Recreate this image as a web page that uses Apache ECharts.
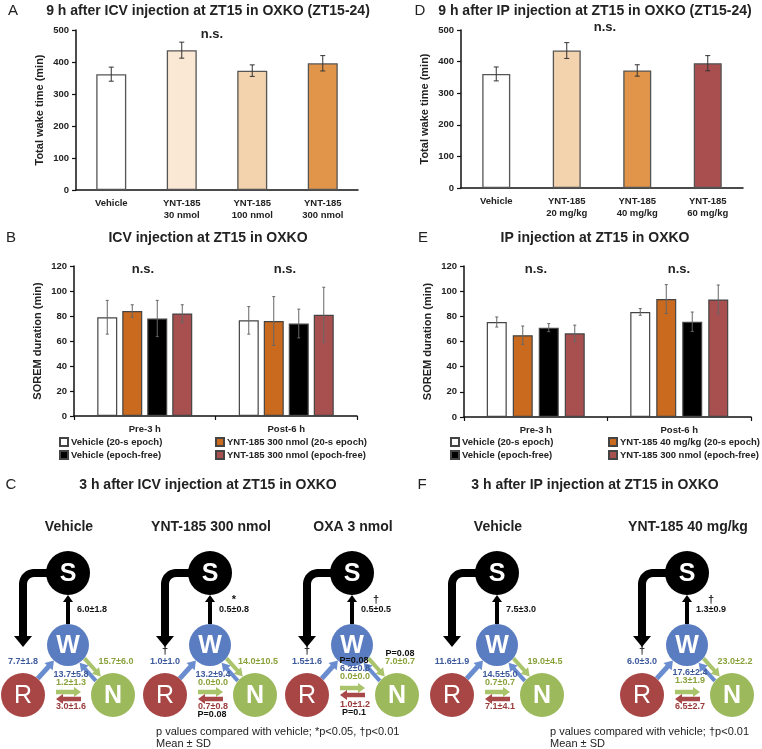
<!DOCTYPE html>
<html><head><meta charset="utf-8">
<script src="https://cdn.jsdelivr.net/npm/echarts@6/dist/echarts.min.js"></script>
<style>html,body{margin:0;padding:0;background:#fff}#c{width:762px;height:749px}</style>
</head><body><div id="c"></div>
<script>
// ---------------- DATA ----------------
// Panel A
const catA = ['Vehicle', 'YNT-185\n30 nmol', 'YNT-185\n100 nmol', 'YNT-185\n300 nmol'];
const meanA = [362, 437, 373, 396];
const sdA = [22, 25, 18, 24];
// Panel D
const catD = ['Vehicle', 'YNT-185\n20 mg/kg', 'YNT-185\n40 mg/kg', 'YNT-185\n60 mg/kg'];
const meanD = [361, 435, 372, 395];
const sdD = [22, 25, 18, 24];
// Panel B
const catB = ['Pre-3 h', 'Post-6 h'];
const seriesB = ['Vehicle (20-s epoch)', 'YNT-185 300 nmol (20-s epoch)', 'Vehicle (epoch-free)', 'YNT-185 300 nmol (epoch-free)'];
const meanB = [[79, 76.5], [84, 76], [78, 74], [82, 81]];
const sdB = [[13.5, 11], [5, 19.5], [14.5, 11.5], [7, 22]];
// Panel E
const catE = ['Pre-3 h', 'Post-6 h'];
const seriesE = ['Vehicle (20-s epoch)', 'YNT-185 40 mg/kg (20-s epoch)', 'Vehicle (epoch-free)', 'YNT-185 300 nmol (epoch-free)'];
const meanE = [[75.5, 83.5], [65, 93.7], [71, 75.7], [66.5, 93.4]];
const sdE = [[4, 2.7], [7.3, 11.5], [3.2, 7.7], [6.5, 11.5]];
// Panel C diagrams
const titlesC = ['Vehicle', 'YNT-185 300 nmol', 'OXA 3 nmol'];
const wsC = ['6.0\u00b11.8', '0.5\u00b10.8', '0.5\u00b10.5'];
const wsMarkC = ['', '*', '\u2020'];
const rwC = ['7.7\u00b11.8', '1.0\u00b11.0', '1.5\u00b11.6'];
const rwMarkC = ['', '\u2020', '\u2020'];
const wnC = ['15.7\u00b16.0', '14.0\u00b110.5', '7.0\u00b10.7'];
const wnPC = ['', '', 'P=0.08'];
const nwC = ['13.7\u00b15.8', '13.2\u00b19.4', '6.2\u00b10.8'];
const nwPC = ['', '', 'P=0.08'];
const rnC = ['1.2\u00b11.3', '0.0\u00b10.0', '0.0\u00b10.0'];
const nrC = ['3.0\u00b11.6', '0.7\u00b10.8', '1.0\u00b11.2'];
const nrPC = ['', 'P=0.08', 'P=0.1'];
// Panel F diagrams
const titlesF = ['Vehicle', 'YNT-185 40 mg/kg'];
const wsF = ['7.5\u00b13.0', '1.3\u00b10.9'];
const wsMarkF = ['', '\u2020'];
const rwF = ['11.6\u00b11.9', '6.0\u00b13.0'];
const rwMarkF = ['', '\u2020'];
const wnF = ['19.0\u00b14.5', '23.0\u00b12.2'];
const wnPF = ['', ''];
const nwF = ['14.5\u00b15.0', '17.6\u00b12.4'];
const nwPF = ['', ''];
const rnF = ['0.7\u00b10.7', '1.3\u00b11.9'];
const nrF = ['7.1\u00b14.1', '6.5\u00b12.7'];
const nrPF = ['', ''];

// ---------------- STYLE / LAYOUT ----------------
const FONT = '"Liberation Sans", Arial, Helvetica, sans-serif';
const colA = ['#ffffff', '#fae7d4', '#f3d2ae', '#e0954a'];
const colD = ['#ffffff', '#f3d2ae', '#e0954a', '#a94f4f'];
const colBE = ['#ffffff', '#c96a1f', '#000000', '#a84f50'];
const wxC = [68, 210, 352];
const wxF = [497, 687];
const topShiftC = [0, 0, -6], midShiftC = [0, 0, -4], botShiftC = [0, 0, -2];
const topShiftF = [0, -2], midShiftF = [0, 0], botShiftF = [0, 0];

const grids = [
  {left: 76, top: 30, width: 282, height: 160},   // A
  {left: 461, top: 30, width: 282, height: 158},  // D
  {left: 74, top: 266, width: 283, height: 150},  // B
  {left: 464, top: 266, width: 287, height: 151}  // E
].map(g => Object.assign({outerBoundsMode: 'none', containLabel: false}, g));

function yAx(gi, max, interval, name) {
  return {
    type: 'value', gridIndex: gi, min: 0, max: max, interval: interval,
    name: name, nameLocation: 'middle', nameGap: 31,
    nameTextStyle: {fontFamily: FONT, fontWeight: 'bold', fontSize: 11, color: '#222'},
    axisLine: {show: true, lineStyle: {color: '#111', width: 1.5}},
    axisTick: {show: true, length: 4, lineStyle: {color: '#111', width: 1.2}},
    axisLabel: {fontFamily: FONT, fontWeight: 'bold', fontSize: 9.5, color: '#222', margin: 7},
    splitLine: {show: false}
  };
}
function xAx(gi, data, ticks) {
  return {
    type: 'category', gridIndex: gi, data: data,
    axisLine: {show: true, lineStyle: {color: '#111', width: 1.5}},
    axisTick: {show: ticks, length: 4, alignWithLabel: false, lineStyle: {color: '#111', width: 1.2}},
    axisLabel: {interval: 0, fontFamily: FONT, fontWeight: 'bold', fontSize: 9.5, color: '#222', margin: 7, lineHeight: 12},
    splitLine: {show: false}
  };
}

function errSeries(gi, means, sds, offsetPx, capW, color, name) {
  return {
    type: 'custom', name: name, xAxisIndex: gi, yAxisIndex: gi, z: 5, silent: true,
    data: means.map((m, i) => [i, m, sds[i]]),
    renderItem: function (params, api) {
      const i = api.value(0), m = api.value(1), s = api.value(2);
      const hi = api.coord([i, m + s]), lo = api.coord([i, m - s]);
      const x = hi[0] + offsetPx;
      const st = {stroke: color, lineWidth: 1};
      return {type: 'group', children: [
        {type: 'line', shape: {x1: x, y1: hi[1], x2: x, y2: lo[1]}, style: st},
        {type: 'line', shape: {x1: x - capW, y1: hi[1], x2: x + capW, y2: hi[1]}, style: st},
        {type: 'line', shape: {x1: x - capW, y1: lo[1], x2: x + capW, y2: lo[1]}, style: st}
      ]};
    }
  };
}

const series = [];
// A
series.push({type: 'bar', xAxisIndex: 0, yAxisIndex: 0, barWidth: 30,
  data: meanA.map((v, i) => ({value: v, itemStyle: {color: colA[i]}})),
  itemStyle: {borderColor: '#555', borderWidth: 1.3}});
series.push(errSeries(0, meanA, sdA, 0, 2.5, '#333', 'errA'));
// D
series.push({type: 'bar', xAxisIndex: 1, yAxisIndex: 1, barWidth: 28,
  data: meanD.map((v, i) => ({value: v, itemStyle: {color: colD[i]}})),
  itemStyle: {borderColor: '#555', borderWidth: 1.3}});
series.push(errSeries(1, meanD, sdD, 0, 2.5, '#333', 'errD'));
// B
seriesB.forEach((nm, k) => {
  series.push({type: 'bar', name: nm, xAxisIndex: 2, yAxisIndex: 2, barWidth: 20, barGap: '25%',
    data: meanB[k], itemStyle: {color: colBE[k], borderColor: '#444', borderWidth: 1.2}});
});
seriesB.forEach((nm, k) => series.push(errSeries(2, meanB[k], sdB[k], (k - 1.5) * 25, 1.5, '#666', 'errB' + k)));
// E
seriesE.forEach((nm, k) => {
  series.push({type: 'bar', name: nm, xAxisIndex: 3, yAxisIndex: 3, barWidth: 20, barGap: '30%',
    data: meanE[k], itemStyle: {color: colBE[k], borderColor: '#444', borderWidth: 1.2}});
});
seriesE.forEach((nm, k) => series.push(errSeries(3, meanE[k], sdE[k], (k - 1.5) * 26, 1.5, '#666', 'errE' + k)));

// Legends
function lg(name, left, top) {
  return {show: true, data: [name], left: left, top: top, orient: 'horizontal', icon: 'rect',
    itemWidth: 8, itemHeight: 8, itemGap: 0, padding: 0, selectedMode: false,
    textStyle: {fontFamily: FONT, fontWeight: 'bold', fontSize: 9.5, color: '#222', padding: [0, 0, 0, -2]}};
}
const legends = [
  lg(seriesB[0], 59, 437), lg(seriesB[1], 215, 437), lg(seriesB[2], 59, 450), lg(seriesB[3], 215, 450),
  lg(seriesE[0], 450, 437), lg(seriesE[1], 608, 437), lg(seriesE[2], 450, 450), lg(seriesE[3], 608, 450)
];

// ---------------- GRAPHIC (texts + state diagrams) ----------------
const G = [];
function T(x, y, text, font, color, align) {
  G.push({type: 'text', x: x, y: y, silent: true, style: {
    text: text, font: font, fill: color || '#222',
    align: align || 'center', textAlign: align || 'center',
    verticalAlign: 'middle', textVerticalAlign: 'middle'}});
}
const fTitle = 'bold 14px ' + FONT;
const fLetter = '15px ' + FONT;
const fNS = 'bold 13px ' + FONT;
const fLab = 'bold 9px ' + FONT;
const fFoot = '11px ' + FONT;

T(13, 11, 'A', fLetter); T(208, 11, '9 h after ICV injection at ZT15 in OXKO (ZT15-24)', fTitle);
T(420, 11, 'D', fLetter); T(595, 11, '9 h after IP injection at ZT15 in OXKO (ZT15-24)', fTitle);
T(11, 238, 'B', fLetter); T(208, 238, 'ICV injection at ZT15 in OXKO', fTitle);
T(423, 238, 'E', fLetter); T(595, 238, 'IP injection at ZT15 in OXKO', fTitle);
T(11, 485, 'C', fLetter); T(208, 485, '3 h after ICV injection at ZT15 in OXKO', fTitle);
T(422, 485, 'F', fLetter); T(595, 485, '3 h after IP injection at ZT15 in OXKO', fTitle);
T(212, 34, 'n.s.', fNS); T(605, 27, 'n.s.', fNS);
T(143, 269, 'n.s.', fNS); T(285, 269, 'n.s.', fNS);
T(536, 269, 'n.s.', fNS); T(679, 269, 'n.s.', fNS);

const BLUE_T = '#3d5a9c', GREEN_T = '#8aa23c', RED_T = '#9a3a3a';
const W_FILL = '#5a7cc1', R_FILL = '#a84646', N_FILL = '#9cb95b';
const BLUE_A = '#6a8dcf', GREEN_A = '#a9c46b', RED_A = '#a84848';

function arrow(x1, y1, x2, y2, color, lw, hl, hw) {
  const dx = x2 - x1, dy = y2 - y1, L = Math.hypot(dx, dy), ux = dx / L, uy = dy / L;
  const bx = x2 - ux * hl, by = y2 - uy * hl;
  G.push({type: 'line', silent: true, shape: {x1: x1, y1: y1, x2: bx + ux, y2: by + uy}, style: {stroke: color, lineWidth: lw}});
  G.push({type: 'polygon', silent: true, shape: {points: [[x2, y2], [bx - uy * hw / 2, by + ux * hw / 2], [bx + uy * hw / 2, by - ux * hw / 2]]}, style: {fill: color}});
}
function node(cx, cy, r, fill, letter, bold) {
  G.push({type: 'circle', silent: true, shape: {cx: cx, cy: cy, r: r}, style: {fill: fill}});
  T(cx, cy + 1, letter, (bold ? 'bold ' : '') + '25px ' + FONT, '#ffffff');
}
function diagram(wx, title, ws, wsMark, rw, rwMark, wn, wnP, nw, nwP, rn, nr, nrP, ts, ms, bs) {
  const sY = 573, wY = 645, bY = 695, rx = wx - 45, nx = wx + 45;
  T(wx + 1, 527, title, fTitle);
  // bent arrow S -> (down, left side)
  const rad = 11, pts = [[wx - 20, sY], [rx + rad, sY]];
  for (let t = 1; t <= 8; t++) {
    const a = (-90 - 90 * t / 8) * Math.PI / 180;
    pts.push([rx + rad + rad * Math.cos(a), sY + rad + rad * Math.sin(a)]);
  }
  pts.push([rx, 637]);
  G.push({type: 'polyline', silent: true, shape: {points: pts}, style: {stroke: '#000', lineWidth: 8, fill: null, lineJoin: 'round'}});
  G.push({type: 'polygon', silent: true, shape: {points: [[rx - 9, 636], [rx + 9, 636], [rx, 647]]}, style: {fill: '#000'}});
  // W -> S
  arrow(wx, wY - 21, wx, sY + 22, '#000', 4, 7, 10);
  // R -> W
  {
    const dx = wx - rx, dy = wY - bY, L = Math.hypot(dx, dy), ux = dx / L, uy = dy / L;
    arrow(rx + ux * 22, bY + uy * 22, wx - ux * 21, wY - uy * 21, BLUE_A, 5, 8, 11);
  }
  // W <-> N
  {
    const dx = nx - wx, dy = bY - wY, L = Math.hypot(dx, dy), ux = dx / L, uy = dy / L;
    const px = uy, py = -ux, o = 3.3;
    arrow(wx + ux * 21 + px * o, wY + uy * 21 + py * o, nx - ux * 22 + px * o, bY - uy * 22 + py * o, GREEN_A, 4, 8, 10);
    arrow(nx - ux * 22 - px * o, bY - uy * 22 - py * o, wx + ux * 21 - px * o, wY + uy * 21 - py * o, BLUE_A, 4, 8, 10);
  }
  // R <-> N small arrows
  arrow(wx - 12, 692 + ms, wx + 13, 692 + ms, GREEN_A, 4.5, 7, 10);
  arrow(wx + 13, 699 + ms, wx - 12, 699 + ms, RED_A, 4.5, 7, 10);
  // nodes
  node(wx, sY, 22, '#000', 'S', true);
  node(wx, wY, 21, W_FILL, 'W', true);
  node(rx, bY, 22, R_FILL, 'R', false);
  node(nx, bY, 22, N_FILL, 'N', true);
  // labels
  if (wsMark) T(wx + 24, 600, wsMark, 'bold 11px ' + FONT, '#111');
  T(wx + 24, 610, ws, fLab, '#111');
  if (rwMark) T(rx, 651, rwMark, 'bold 11px ' + FONT, '#111');
  T(rx, 662, rw, fLab, BLUE_T);
  if (wnP) T(wx + 48, 654, wnP, fLab, '#111');
  T(wx + 48, 662, wn, fLab, GREEN_T);
  if (nwP) T(wx + 2, 667 + ts, nwP, fLab, '#111');
  T(wx + 3, 675 + ts, nw, fLab, BLUE_T);
  T(wx + 3, 683 + ts, rn, fLab, GREEN_T);
  T(wx + 3, 707 + bs, nr, fLab, RED_T);
  if (nrP) T(wx + 2, 715 + bs, nrP, fLab, '#111');
}
wxC.forEach((wx, i) => diagram(wx, titlesC[i], wsC[i], wsMarkC[i], rwC[i], rwMarkC[i], wnC[i], wnPC[i], nwC[i], nwPC[i], rnC[i], nrC[i], nrPC[i], topShiftC[i], midShiftC[i], botShiftC[i]));
wxF.forEach((wx, i) => diagram(wx, titlesF[i], wsF[i], wsMarkF[i], rwF[i], rwMarkF[i], wnF[i], wnPF[i], nwF[i], nwPF[i], rnF[i], nrF[i], nrPF[i], topShiftF[i], midShiftF[i], botShiftF[i]));

T(156, 732, 'p values compared with vehicle; *p<0.05, \u2020p<0.01', fFoot, '#222', 'left');
T(156, 744, 'Mean \u00b1 SD', fFoot, '#222', 'left');
T(550, 732, 'p values compared with vehicle; \u2020p<0.01', fFoot, '#222', 'left');
T(550, 744, 'Mean \u00b1 SD', fFoot, '#222', 'left');

const option = {
  animation: false,
  backgroundColor: '#ffffff',
  textStyle: {fontFamily: FONT},
  grid: grids,
  xAxis: [xAx(0, catA, false), xAx(1, catD, false), xAx(2, catB, true), xAx(3, catE, true)],
  yAxis: [yAx(0, 500, 100, 'Total wake time (min)'), yAx(1, 500, 100, 'Total wake time (min)'),
          yAx(2, 120, 20, 'SOREM duration (min)'), yAx(3, 120, 20, 'SOREM duration (min)')],
  legend: legends,
  series: series,
  graphic: {elements: G}
};
const chart = echarts.init(document.getElementById('c'), null, {renderer: 'canvas'});
chart.setOption(option);
</script>
</body></html>
